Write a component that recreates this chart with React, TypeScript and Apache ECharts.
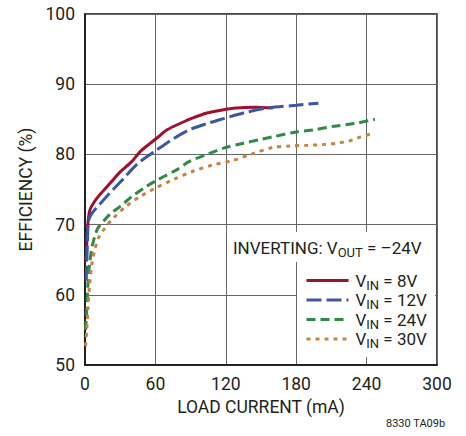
import React, { useEffect, useRef } from "react";
import * as echarts from "echarts";

const vin8: number[][] = [[1,64.7],[2,69],[4,72],[9,73.5],[15,74.7],[24,76.4],[30,77.5],[40,79],[47,80.4],[55,81.5],[61,82.3],[70,83.5],[81,84.4],[92,85.2],[104,85.9],[116,86.3],[129,86.6],[145,86.7],[160,86.6]];
const vin12: number[][] = [[1,62],[2,67],[3,70.5],[5.5,71.5],[12,72.8],[20,74.3],[32,76.4],[45,78.7],[61,80.6],[75,82.2],[89,83.5],[104,84.4],[118,85.1],[135,85.9],[155,86.6],[180,87.0],[199,87.3]];
const vin24: number[][] = [[0.5,55],[1.5,58],[2.5,61.5],[4,64.5],[6,66.8],[8.3,68.3],[11,69.5],[15.4,70.4],[22,71.6],[30,72.6],[40,74],[52,75.4],[61,76.3],[78,77.8],[89,79.0],[104,80.0],[118,80.9],[135,81.6],[149,82.1],[160,82.5],[180,83.2],[195,83.5],[212,84.0],[230,84.4],[247,85.0]];
const vin30: number[][] = [[0.5,52.7],[1.5,55],[2.5,58],[4,61.6],[6,64.5],[8.3,66.4],[12,68.3],[17,69.5],[24,70.9],[35,72.6],[47,74],[60,75.2],[75,76.4],[92,77.6],[109,78.5],[125,79.1],[143,80.1],[160,81.0],[175,81.2],[190,81.3],[203,81.4],[215,81.6],[225,81.9],[235,82.5],[246,83.0]];

const vinLabels = ["8V", "12V", "24V", "30V"];
const seriesData = [vin8, vin12, vin24, vin30];
const colors = ["#a0112f", "#3d56a6", "#2f8b48", "#c98340"];
const dashes: any[] = ["solid", [15, 5], [9, 5], [4, 5]];

const FONT = "Roboto, 'Liberation Sans', sans-serif";
const TXT = "#231f20";

export default function App() {
  const ref = useRef<HTMLDivElement>(null);
  useEffect(() => {
    if (!ref.current) return;
    document.body.style.margin = "0";
    const chart = echarts.init(ref.current, undefined, { renderer: "svg" });
    const names = vinLabels.map((v) => "VIN = " + v);
    const rich = {
      v: { fontSize: 17, lineHeight: 22, verticalAlign: "middle", color: TXT, fontFamily: FONT },
      s: { fontSize: 13, lineHeight: 10, verticalAlign: "bottom", color: TXT, fontFamily: FONT },
    };
    chart.setOption({
      animation: false,
      textStyle: { fontFamily: FONT },
      grid: { left: 85, top: 14, width: 352, height: 351, show: true, borderColor: "#111", borderWidth: 1.5, backgroundColor: "#fff" },
      xAxis: {
        type: "value", min: 0, max: 300, interval: 60,
        name: "LOAD CURRENT (mA)", nameLocation: "middle", nameGap: 32,
        nameTextStyle: { fontSize: 17.5, color: TXT, fontFamily: FONT },
        axisLine: { lineStyle: { color: "#111", width: 1.5 } },
        axisTick: { show: false },
        axisLabel: { fontSize: 17.5, color: TXT, margin: 10, fontFamily: FONT },
        splitLine: { lineStyle: { color: "#666", width: 1 } },
      },
      yAxis: {
        type: "value", min: 50, max: 100, interval: 10,
        name: "EFFICIENCY (%)", nameLocation: "middle", nameGap: 50,
        nameTextStyle: { fontSize: 17.5, color: TXT, fontFamily: FONT },
        axisLine: { show: true, lineStyle: { color: "#111", width: 1.5 } },
        axisTick: { show: false },
        axisLabel: { fontSize: 17.5, color: TXT, margin: 10, fontFamily: FONT },
        splitLine: { lineStyle: { color: "#666", width: 1 } },
      },
      legend: {
        orient: "vertical", left: 300, top: 267, z: 10,
        itemWidth: 42, itemHeight: 14, itemGap: 0,
        itemStyle: { opacity: 0 },
        lineStyle: { width: 3 },
        data: names,
        formatter: (n: string) => "{v|V}{s|IN}{v| = " + n.split("= ")[1] + "}",
        textStyle: { rich, color: TXT, padding: [0, 0, 0, 2] },
      },
      graphic: [
        { type: "rect", z: 3, shape: { x: 228, y: 232, width: 207, height: 30 }, style: { fill: "#fff" } },
        { type: "rect", z: 3, shape: { x: 297, y: 262, width: 138, height: 95 }, style: { fill: "#fff" } },
        {
          type: "text", z: 11, x: 233, y: 237,
          style: { text: "{v|INVERTING: V}{s|OUT}{v| = –24V}", rich, fill: TXT },
        },
        {
          type: "text", z: 11, x: 386, y: 418,
          style: { text: "8330 TA09b", fontSize: 11, fontFamily: FONT, fill: TXT },
        },
      ],
      series: seriesData.map((d, i) => ({
        name: names[i], type: "line", data: d, showSymbol: false, symbol: "none",
        smooth: 0.3, z: 2,
        lineStyle: { color: colors[i], width: 3, type: dashes[i], cap: "butt" },
        itemStyle: { color: colors[i] },
      })),
    });
    return () => chart.dispose();
  }, []);
  return <div ref={ref} style={{ width: 466, height: 436 }} />;
}
